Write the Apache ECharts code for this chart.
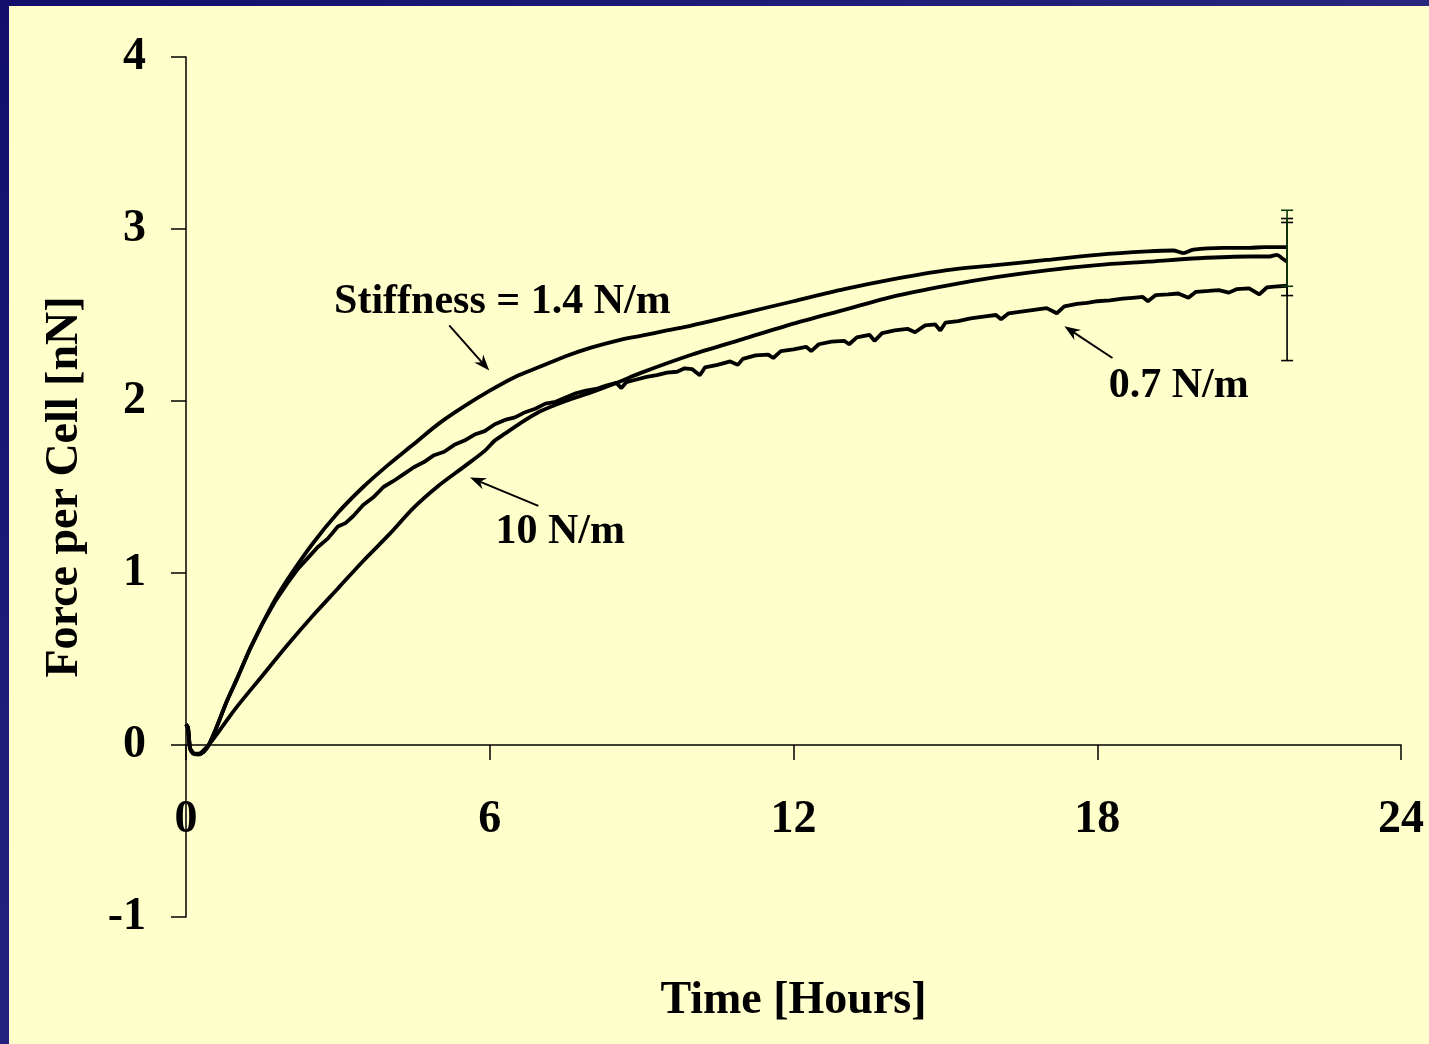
<!DOCTYPE html>
<html>
<head>
<meta charset="utf-8">
<title>Force per Cell vs Time</title>
<script src="https://cdn.jsdelivr.net/npm/echarts@6/dist/echarts.min.js"></script>
<style>
  html, body { margin: 0; padding: 0; background: #ffffcc; overflow: hidden; }
  #chart { width: 1429px; height: 1044px; }
</style>
</head>
<body>
<div id="chart"></div>
<script>
// Time [Hours] vs Force per Cell [nN], one trace per substrate stiffness
const xTicks = [0, 6, 12, 18, 24];
const yTicks = [-1, 0, 1, 2, 3, 4];

// Stiffness = 1.4 N/m (smooth upper trace)
const stiff14 = [
  [0, 0.12], [0.04, 0.10], [0.08, -0.02], [0.15, -0.05], [0.25, -0.055], [0.35, -0.04],
  [0.45, 0.0], [0.6, 0.10], [0.8, 0.25], [1.0, 0.38], [1.25, 0.55], [1.5, 0.70],
  [1.75, 0.84], [2.0, 0.96], [2.5, 1.17], [3.0, 1.35], [3.5, 1.50], [4.0, 1.63],
  [4.5, 1.75], [5.0, 1.87], [5.5, 1.97], [6.0, 2.06], [6.5, 2.14], [7.0, 2.20],
  [7.5, 2.26], [8.0, 2.31], [8.5, 2.35], [9.0, 2.38], [9.5, 2.41], [10.0, 2.44],
  [11.0, 2.51], [12.0, 2.58], [13.0, 2.65], [14.0, 2.71], [15.0, 2.76], [16.0, 2.79],
  [17.0, 2.82], [18.0, 2.85], [19.0, 2.87], [19.5, 2.875], [19.7, 2.86], [19.9, 2.88],
  [20.5, 2.89], [21.0, 2.89], [21.3, 2.895], [21.75, 2.895]
];

// 10 N/m (starts lowest, ends in the middle)
const stiff10 = [
  [0, 0.12], [0.04, 0.10], [0.08, -0.02], [0.15, -0.05], [0.25, -0.05], [0.35, -0.03],
  [0.5, 0.02], [0.75, 0.12], [1.0, 0.22], [1.5, 0.40], [2.0, 0.58], [2.5, 0.75],
  [3.0, 0.91], [3.5, 1.07], [4.0, 1.22], [4.5, 1.38], [5.0, 1.51], [5.5, 1.62],
  [5.9, 1.71], [6.1, 1.77], [6.3, 1.81], [6.6, 1.87], [7.0, 1.94], [7.5, 2.00],
  [8.0, 2.05], [8.5, 2.105], [9.0, 2.165], [10.0, 2.27], [11.0, 2.36], [12.0, 2.45],
  [13.0, 2.53], [14.0, 2.61], [15.0, 2.67], [16.0, 2.72], [17.0, 2.76], [18.0, 2.79],
  [19.0, 2.81], [20.0, 2.83], [21.0, 2.84], [21.4, 2.84], [21.55, 2.85], [21.65, 2.83],
  [21.75, 2.81]
];

// 0.7 N/m (noisy trace, ends lowest)
const stiff07 = [
  [0, 0.12], [0.04, 0.10], [0.08, -0.02], [0.15, -0.05], [0.25, -0.055], [0.35, -0.04],
  [0.45, 0.0], [0.6, 0.10], [0.8, 0.25], [1.0, 0.38], [1.25, 0.55], [1.5, 0.70],
  [1.75, 0.83], [2.0, 0.94], [2.2, 1.02], [2.4, 1.085], [2.6, 1.15], [2.8, 1.20],
  [3.0, 1.27], [3.15, 1.29], [3.3, 1.33], [3.5, 1.395], [3.7, 1.44], [3.9, 1.50],
  [4.1, 1.535], [4.3, 1.575], [4.5, 1.615], [4.7, 1.645], [4.9, 1.685], [5.1, 1.705],
  [5.3, 1.745], [5.5, 1.77], [5.7, 1.805], [5.9, 1.825], [6.1, 1.865], [6.3, 1.89],
  [6.5, 1.905], [6.7, 1.935], [6.9, 1.955], [7.1, 1.985], [7.3, 1.995], [7.5, 2.02],
  [7.7, 2.045], [7.9, 2.06], [8.1, 2.07], [8.3, 2.09], [8.5, 2.105], [8.6, 2.075],
  [8.7, 2.11], [8.9, 2.125], [9.1, 2.14], [9.3, 2.15], [9.5, 2.165], [9.7, 2.17],
  [9.85, 2.19], [10.0, 2.185], [10.15, 2.15], [10.25, 2.195], [10.5, 2.21], [10.75, 2.23],
  [10.9, 2.21], [11.0, 2.245], [11.25, 2.265], [11.5, 2.27], [11.6, 2.25], [11.75, 2.29],
  [12.0, 2.30], [12.25, 2.315], [12.35, 2.29], [12.5, 2.33], [12.75, 2.345], [13.0, 2.35],
  [13.1, 2.33], [13.25, 2.37], [13.5, 2.385], [13.6, 2.35], [13.75, 2.395], [14.0, 2.41],
  [14.25, 2.42], [14.4, 2.40], [14.6, 2.44], [14.8, 2.445], [14.9, 2.41], [15.0, 2.455],
  [15.25, 2.465], [15.5, 2.48], [15.75, 2.49], [16.0, 2.50], [16.1, 2.475], [16.25, 2.51],
  [16.5, 2.52], [16.75, 2.53], [17.0, 2.54], [17.2, 2.51], [17.35, 2.55], [17.6, 2.565],
  [17.8, 2.57], [18.0, 2.58], [18.25, 2.585], [18.5, 2.595], [18.7, 2.60], [18.9, 2.605],
  [19.0, 2.58], [19.15, 2.615], [19.4, 2.62], [19.6, 2.625], [19.8, 2.60], [19.95, 2.635],
  [20.2, 2.64], [20.4, 2.645], [20.6, 2.63], [20.75, 2.65], [21.0, 2.655], [21.2, 2.62],
  [21.35, 2.66], [21.5, 2.665], [21.75, 2.67]
];

// End-point error bars: [time, low, high]
const errorBars = [
  [21.75, 2.235, 3.038],   // 0.7 N/m
  [21.75, 2.613, 3.061],   // 10 N/m
  [21.75, 2.667, 3.109]    // 1.4 N/m
];
const errorBarColors = ['#000000', '#000000', '#0d3a0d'];

// Callouts: text anchor [t, F], arrow tail [t, F], arrow tip [t, F]
const calloutTexts = ['Stiffness = 1.4 N/m', '10 N/m', '0.7 N/m'];
const calloutAnchors = [[6.25, 2.573], [7.39, 1.235], [19.61, 2.084]];
const calloutTails = [[5.2, 2.44], [6.96, 1.39], [18.3, 2.25]];
const calloutTips = [[5.99, 2.177], [5.61, 1.555], [17.35, 2.435]];

const FONT = '"Liberation Serif", "Times New Roman", Times, serif';

const chart = echarts.init(document.getElementById('chart'), null, { renderer: 'canvas' });

const calloutData = calloutTexts.map((txt, i) => [
  calloutAnchors[i][0], calloutAnchors[i][1],
  calloutTails[i][0], calloutTails[i][1],
  calloutTips[i][0], calloutTips[i][1], i
]);

function renderErrorBar(params, api) {
  const t = api.value(0);
  const lo = api.coord([t, api.value(1)]);
  const hi = api.coord([t, api.value(2)]);
  const color = errorBarColors[params.dataIndex];
  const hw = 6;
  const style = { stroke: color, lineWidth: 1.6 };
  return {
    type: 'group',
    children: [
      { type: 'line', shape: { x1: lo[0], y1: lo[1], x2: hi[0], y2: hi[1] }, style },
      { type: 'line', shape: { x1: lo[0] - hw, y1: lo[1], x2: lo[0] + hw, y2: lo[1] }, style },
      { type: 'line', shape: { x1: hi[0] - hw, y1: hi[1], x2: hi[0] + hw, y2: hi[1] }, style }
    ]
  };
}

function renderCallout(params, api) {
  const idx = params.dataIndex;
  const txt = api.coord([api.value(0), api.value(1)]);
  const tail = api.coord([api.value(2), api.value(3)]);
  const tip = api.coord([api.value(4), api.value(5)]);
  const dx = tip[0] - tail[0], dy = tip[1] - tail[1];
  const len = Math.sqrt(dx * dx + dy * dy);
  const ux = dx / len, uy = dy / len;
  const nx = -uy, ny = ux;
  const L = 16, W = 6, notch = 5;
  const head = [
    [tip[0], tip[1]],
    [tip[0] - ux * L + nx * W, tip[1] - uy * L + ny * W],
    [tip[0] - ux * (L - notch), tip[1] - uy * (L - notch)],
    [tip[0] - ux * L - nx * W, tip[1] - uy * L - ny * W]
  ];
  return {
    type: 'group',
    children: [
      {
        type: 'text',
        style: {
          text: calloutTexts[idx], x: txt[0], y: txt[1],
          align: 'center', verticalAlign: 'middle',
          font: 'bold 42px ' + FONT, fill: '#000'
        }
      },
      {
        type: 'line',
        shape: { x1: tail[0], y1: tail[1], x2: tip[0] - ux * 8, y2: tip[1] - uy * 8 },
        style: { stroke: '#000', lineWidth: 2 }
      },
      { type: 'polygon', shape: { points: head }, style: { fill: '#000' } }
    ]
  };
}

const lineStyle = { color: '#000', width: 3.8 };

chart.setOption({
  backgroundColor: '#ffffcc',
  animation: false,
  graphic: [
    // navy frame along the top and left edges
    { type: 'rect', left: 0, top: 0, shape: { width: 1429, height: 6 },
      style: { fill: new echarts.graphic.LinearGradient(0, 0, 1, 0, [
        { offset: 0, color: '#120f6c' }, { offset: 1, color: '#27277f' }]) }, z: 100 },
    { type: 'rect', left: 0, top: 0, shape: { width: 9, height: 1044 },
      style: { fill: new echarts.graphic.LinearGradient(0, 0, 0, 1, [
        { offset: 0, color: '#120f6c' }, { offset: 1, color: '#23237f' }]) }, z: 100 }
  ],
  grid: { left: 186, right: 28, top: 57, bottom: 127, containLabel: false, outerBoundsMode: 'none' },
  xAxis: {
    type: 'value',
    min: xTicks[0], max: xTicks[xTicks.length - 1], interval: 6,
    // labels and name are laid out from the grid's bottom edge (F = -1)
    name: 'Time [Hours]', nameLocation: 'middle', nameGap: 61,
    nameTextStyle: { fontFamily: FONT, fontWeight: 'bold', fontSize: 46, color: '#000' },
    axisLine: { onZero: true, lineStyle: { color: '#000', width: 1.5 } },
    axisTick: { show: true, inside: false, length: 15, lineStyle: { color: '#000', width: 1.5 } },
    axisLabel: { margin: -120, fontFamily: FONT, fontWeight: 'bold', fontSize: 46, color: '#000',
      showMinLabel: true, showMaxLabel: true },
    splitLine: { show: false }
  },
  yAxis: {
    type: 'value',
    min: yTicks[0], max: yTicks[yTicks.length - 1], interval: 1,
    name: 'Force per Cell [nN]', nameLocation: 'middle', nameGap: 98,
    nameTextStyle: { fontFamily: FONT, fontWeight: 'bold', fontSize: 46, color: '#000' },
    axisLine: { show: true, lineStyle: { color: '#000', width: 1.5 } },
    axisTick: { show: true, inside: false, length: 15, lineStyle: { color: '#000', width: 1.5 } },
    axisLabel: { margin: 40, padding: [7, 0, 0, 0], fontFamily: FONT, fontWeight: 'bold',
      fontSize: 46, color: '#000' },
    splitLine: { show: false }
  },
  series: [
    { name: '0.7 N/m', type: 'line', data: stiff07, showSymbol: false, lineStyle, smooth: false },
    { name: '10 N/m', type: 'line', data: stiff10, showSymbol: false, lineStyle, smooth: 0.3 },
    { name: '1.4 N/m', type: 'line', data: stiff14, showSymbol: false, lineStyle, smooth: 0.3 },
    { name: 'error', type: 'custom', data: errorBars, renderItem: renderErrorBar, z: 5 },
    { name: 'callouts', type: 'custom', data: calloutData, renderItem: renderCallout, z: 6, clip: false }
  ]
});
</script>
</body>
</html>
